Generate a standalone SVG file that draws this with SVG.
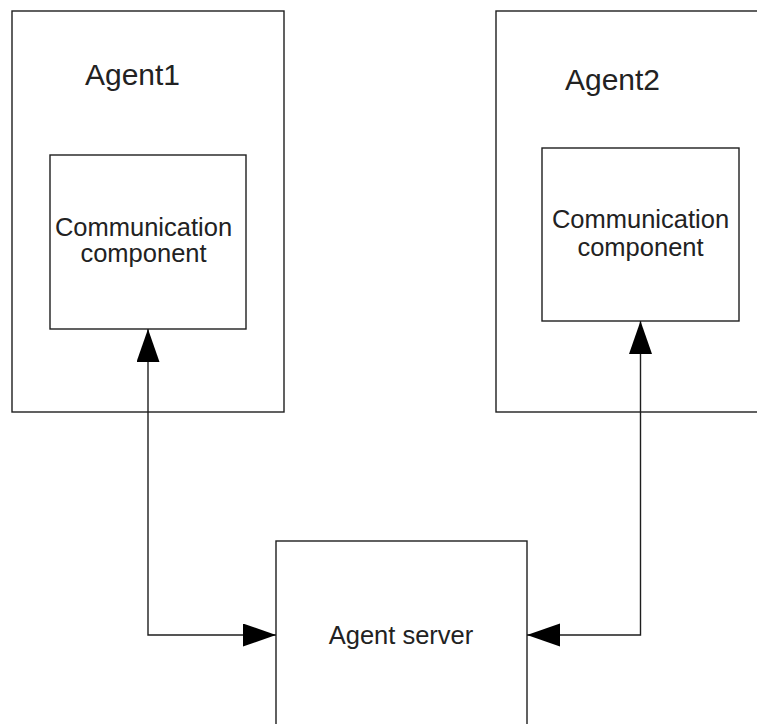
<svg xmlns="http://www.w3.org/2000/svg" width="757" height="724" viewBox="0 0 757 724">
  <style>
    .box { fill: #ffffff; stroke: #1e1e1e; stroke-width: 1.4; }
    .title { font-family: "Liberation Sans", Arial, sans-serif; font-size: 30px; fill: #222222; text-anchor: middle; }
    .label { font-family: "Liberation Sans", Arial, sans-serif; font-size: 25.5px; fill: #222222; text-anchor: middle; }
    .link { fill: none; stroke: #1e1e1e; stroke-width: 1.4; marker-start: url(#head); marker-end: url(#head); }
  </style>
  <defs>
    <marker id="head" markerUnits="userSpaceOnUse" markerWidth="34" markerHeight="24" refX="33" refY="11.5" orient="auto-start-reverse">
      <path d="M0,0 L33,11.5 L0,23 Z" fill="#000000"/>
    </marker>
  </defs>

  <rect width="757" height="724" fill="#ffffff"/>

  <!-- Agent 1 with its communication component -->
  <g id="agent1">
    <rect class="box" x="12" y="11" width="272" height="401"/>
    <text class="title" x="132.5" y="85">Agent1</text>
  </g>
  <g id="comm1">
    <rect class="box" x="50" y="155" width="196" height="174"/>
    <text class="label" x="143.5" y="236">Communication</text>
    <text class="label" x="143.5" y="262">component</text>
  </g>

  <!-- Agent 2 with its communication component -->
  <g id="agent2">
    <rect class="box" x="496" y="11" width="280" height="401"/>
    <text class="title" x="612.5" y="90">Agent2</text>
  </g>
  <g id="comm2">
    <rect class="box" x="542" y="148" width="197" height="173"/>
    <text class="label" x="640.5" y="228">Communication</text>
    <text class="label" x="640.5" y="256">component</text>
  </g>

  <!-- Central server -->
  <g id="server">
    <rect class="box" x="276" y="541" width="251" height="200"/>
    <text class="label" x="401" y="644">Agent server</text>
  </g>

  <!-- Two-way links between each component and the server -->
  <g id="connectors">
    <path class="link" d="M148,329 L148,635 L276,635"/>
    <path class="link" d="M640.5,321 L640.5,635 L527,635"/>
  </g>
</svg>
